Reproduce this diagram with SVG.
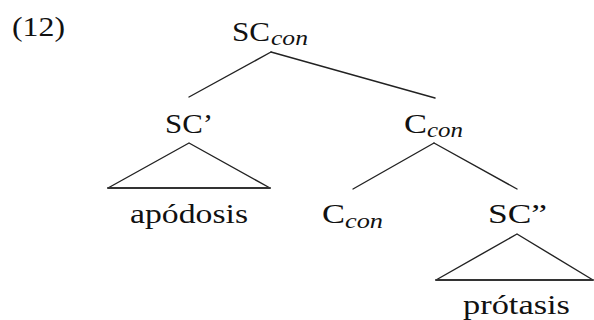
<svg xmlns="http://www.w3.org/2000/svg" width="594" height="320" viewBox="0 0 594 320">
<style>
.n{font-size:28px;}
.s{font-size:20px;font-style:italic;}
.e{stroke:#222;stroke-width:1.4;fill:none;stroke-linecap:round;}
.b{stroke:#333;stroke-width:1.8;}
</style>
<rect width="594" height="320" fill="#fff"/>
<g font-family="'Liberation Serif', 'Times New Roman', serif" fill="#111">
<text id="label" class="n" x="12" y="36" textLength="53" lengthAdjust="spacingAndGlyphs">(12)</text>
<g id="SCcon"><text class="n" x="232" y="41" textLength="38" lengthAdjust="spacingAndGlyphs">SC</text><text class="s" x="271" y="45" textLength="37" lengthAdjust="spacingAndGlyphs">con</text></g>
<g id="SCprime"><text class="n" x="165" y="133" textLength="48" lengthAdjust="spacingAndGlyphs">SC’</text></g>
<g id="Ccon1"><text class="n" x="404" y="133" textLength="23" lengthAdjust="spacingAndGlyphs">C</text><text class="s" x="427" y="137" textLength="36" lengthAdjust="spacingAndGlyphs">con</text></g>
<g id="apodosis"><text class="n" x="130" y="223" textLength="118" lengthAdjust="spacingAndGlyphs">apódosis</text></g>
<g id="Ccon2"><text class="n" x="322" y="223" textLength="23" lengthAdjust="spacingAndGlyphs">C</text><text class="s" x="345" y="228" textLength="38" lengthAdjust="spacingAndGlyphs">con</text></g>
<g id="SCdprime"><text class="n" x="488" y="223" textLength="59" lengthAdjust="spacingAndGlyphs">SC”</text></g>
<g id="protasis"><text class="n" x="463" y="314" textLength="107" lengthAdjust="spacingAndGlyphs">prótasis</text></g>
</g>
<g id="edges">
<line class="e" x1="271" y1="52" x2="189" y2="97"/>
<line class="e" x1="271" y1="52" x2="435" y2="98"/>
<path class="e" d="M189 143 L108 188 M189 143 L270 188"/>
<line class="e b" x1="108" y1="188" x2="270" y2="188"/>
<line class="e" x1="434" y1="143" x2="353" y2="189"/>
<line class="e" x1="434" y1="143" x2="517" y2="189"/>
<path class="e" d="M517 234 L436 280 M517 234 L593 280"/>
<line class="e b" x1="436" y1="280" x2="593" y2="280"/>
</g>
</svg>
